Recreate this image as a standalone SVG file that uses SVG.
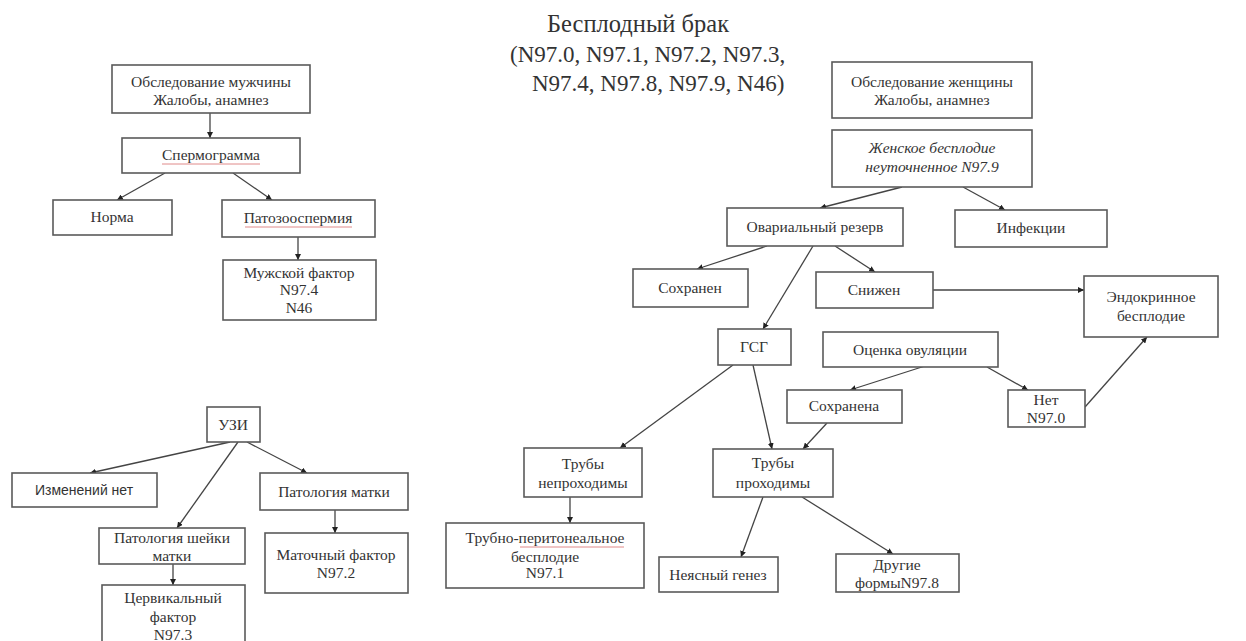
<svg xmlns="http://www.w3.org/2000/svg" width="1246" height="641" viewBox="0 0 1246 641">
<style>
.box{fill:#fff;stroke:#5a5a5a;stroke-width:1.6}
.t{font-family:'Liberation Serif','DejaVu Serif',serif;font-size:15.5px;fill:#333;text-anchor:middle}
.s{font-family:'Liberation Sans',Arial,sans-serif;font-size:14px;fill:#333;text-anchor:middle}
.c line{stroke:#444;stroke-width:1.3;marker-end:url(#ah)}
.sp{stroke:#e08a8a;stroke-width:1;fill:none}
</style>
<defs>
<marker id="ah" viewBox="0 0 6 6" refX="6" refY="3" markerWidth="6" markerHeight="6" markerUnits="userSpaceOnUse" orient="auto">
<path d="M0,0 L6,3 L0,6 z" fill="#222"/>
</marker>
</defs>
<rect width="1246" height="641" fill="#fff"/>
<g id="title" font-family="Liberation Serif, serif" font-size="23" fill="#333">
<text x="547" y="32" font-size="24.5">Бесплодный брак</text>
<text x="510" y="62">(N97.0, N97.1, N97.2, N97.3,</text>
<text x="532" y="91">N97.4, N97.8, N97.9, N46)</text>
</g>
<g class="c" id="connectors">
<line x1="210" y1="113" x2="210" y2="138"/>
<line x1="165" y1="173" x2="117" y2="200"/>
<line x1="233" y1="173" x2="272" y2="200"/>
<line x1="298" y1="237" x2="298" y2="260"/>
<line x1="902" y1="187" x2="820" y2="208"/>
<line x1="963" y1="187" x2="1005" y2="210"/>
<line x1="767" y1="246" x2="697" y2="269"/>
<line x1="835" y1="246" x2="875" y2="272"/>
<line x1="813" y1="246" x2="763" y2="329"/>
<line x1="933" y1="290" x2="1084" y2="290"/>
<line x1="925" y1="366" x2="850" y2="390"/>
<line x1="987" y1="367" x2="1028" y2="390"/>
<line x1="1085" y1="407" x2="1147" y2="337"/>
<line x1="733" y1="365" x2="620" y2="448"/>
<line x1="753" y1="365" x2="772" y2="449"/>
<line x1="827" y1="423" x2="803" y2="449"/>
<line x1="570" y1="497" x2="570" y2="523"/>
<line x1="763" y1="497" x2="741" y2="557"/>
<line x1="802" y1="497" x2="893" y2="554"/>
<line x1="230" y1="442" x2="90" y2="473"/>
<line x1="247" y1="442" x2="307" y2="473"/>
<line x1="238" y1="442" x2="177" y2="528"/>
<line x1="173" y1="564" x2="173" y2="585"/>
<line x1="335" y1="510" x2="335" y2="533"/>
</g>
<g id="male-exam"><rect class="box" x="112" y="65" width="198" height="48"/><text class="t" x="211" y="87">Обследование мужчины</text><text class="t" x="211" y="105">Жалобы, анамнез</text></g>
<g id="spermogram"><rect class="box" x="122" y="138" width="178" height="35"/><text class="t" x="211" y="160">Спермограмма</text><path class="sp" d="M162,164 L260,164"/></g>
<g id="norm"><rect class="box" x="53" y="200" width="119" height="35"/><text class="t" x="112" y="222">Норма</text></g>
<g id="pathozoo"><rect class="box" x="222" y="200" width="153" height="37"/><text class="t" x="298" y="223">Патозооспермия</text><path class="sp" d="M245,227 L352,227"/></g>
<g id="male-factor"><rect class="box" x="223" y="260" width="153" height="60"/><text class="t" x="299" y="278">Мужской фактор</text><text class="t" x="299" y="295">N97.4</text><text class="t" x="299" y="313">N46</text></g>
<g id="female-exam"><rect class="box" x="832" y="62" width="200" height="56"/><text class="t" x="932" y="87">Обследование женщины</text><text class="t" x="932" y="105">Жалобы, анамнез</text></g>
<g id="female-infertility"><rect class="box" x="832" y="130" width="200" height="57"/><text class="t" x="932" y="153" font-style="italic">Женское бесплодие</text><text class="t" x="932" y="172" font-style="italic">неуточненное N97.9</text></g>
<g id="ovarian"><rect class="box" x="727" y="208" width="176" height="38"/><text class="t" x="815" y="232">Овариальный резерв</text></g>
<g id="infections"><rect class="box" x="955" y="210" width="152" height="37"/><text class="t" x="1031" y="233">Инфекции</text></g>
<g id="preserved"><rect class="box" x="633" y="269" width="115" height="38"/><text class="t" x="690" y="293">Сохранен</text></g>
<g id="reduced"><rect class="box" x="816" y="272" width="117" height="36"/><text class="t" x="874" y="295">Снижен</text></g>
<g id="endocrine"><rect class="box" x="1084" y="276" width="134" height="61"/><text class="t" x="1151" y="302">Эндокринное</text><text class="t" x="1151" y="321">бесплодие</text></g>
<g id="hsg"><rect class="box" x="718" y="329" width="73" height="36"/><text class="t" x="754" y="352">ГСГ</text></g>
<g id="ovulation"><rect class="box" x="823" y="332" width="175" height="35"/><text class="t" x="910" y="355">Оценка овуляции</text></g>
<g id="ovulation-preserved"><rect class="box" x="787" y="390" width="115" height="33"/><text class="t" x="844" y="411">Сохранена</text></g>
<g id="no-ovulation"><rect class="box" x="1008" y="390" width="77" height="37"/><text class="t" x="1046" y="405">Нет</text><text class="t" x="1046" y="423">N97.0</text></g>
<g id="tubes-blocked"><rect class="box" x="524" y="448" width="118" height="49"/><text class="t" x="583" y="469">Трубы</text><text class="t" x="583" y="488">непроходимы</text></g>
<g id="tubal-peritoneal"><rect class="box" x="446" y="523" width="198" height="65"/><text class="t" x="545" y="543">Трубно-перитонеальное</text><path class="sp" d="M520,547 L624,547"/><text class="t" x="545" y="562">бесплодие</text><text class="t" x="545" y="578">N97.1</text></g>
<g id="tubes-open"><rect class="box" x="713" y="449" width="120" height="48"/><text class="t" x="773" y="468">Трубы</text><text class="t" x="773" y="488">проходимы</text></g>
<g id="unclear"><rect class="box" x="659" y="557" width="119" height="35"/><text class="t" x="718" y="580">Неясный генез</text></g>
<g id="other-forms"><rect class="box" x="836" y="554" width="123" height="38"/><text class="t" x="897" y="570">Другие</text><text class="t" x="897" y="588">формыN97.8</text></g>
<g id="uzi"><rect class="box" x="207" y="407" width="53" height="35"/><text class="t" x="233" y="430">УЗИ</text></g>
<g id="no-changes"><rect class="box" x="12" y="473" width="145" height="34"/><text class="s" x="84" y="495">Изменений нет</text></g>
<g id="uterus-pathology"><rect class="box" x="260" y="473" width="148" height="37"/><text class="t" x="334" y="497">Патология матки</text></g>
<g id="cervix-pathology"><rect class="box" x="99" y="528" width="146" height="36"/><text class="t" x="172" y="543">Патология шейки</text><text class="t" x="172" y="561">матки</text></g>
<g id="cervical-factor"><rect class="box" x="102" y="585" width="143" height="62"/><text class="t" x="173" y="603">Цервикальный</text><text class="t" x="173" y="622">фактор</text><text class="t" x="173" y="640">N97.3</text></g>
<g id="uterine-factor"><rect class="box" x="265" y="533" width="143" height="60"/><text class="t" x="336" y="560">Маточный фактор</text><text class="t" x="336" y="578">N97.2</text></g>
</svg>
